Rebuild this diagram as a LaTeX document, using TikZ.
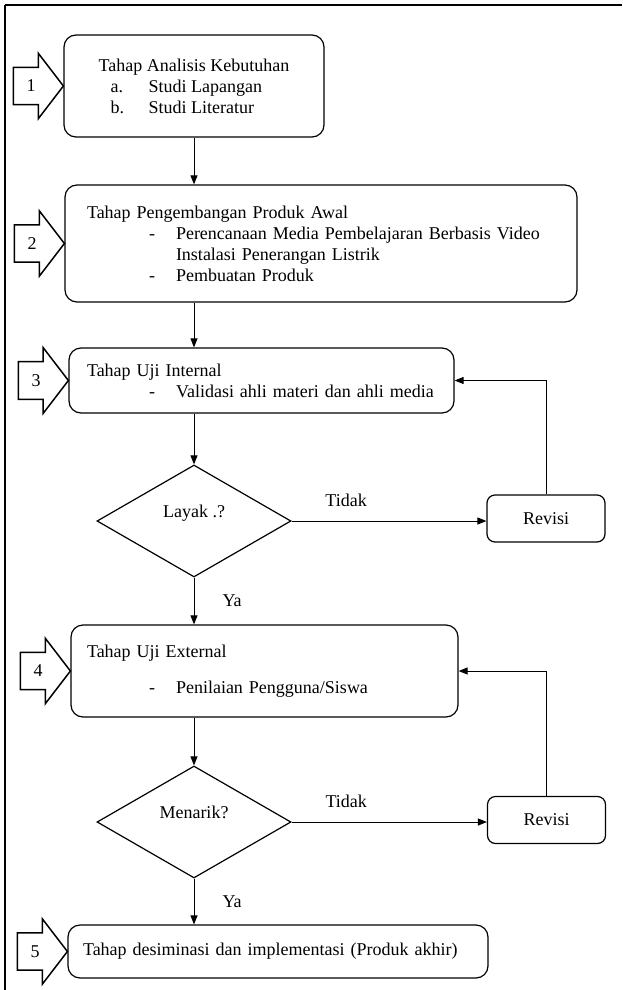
\documentclass[tikz,border=0pt]{standalone}
\usepackage{fontspec}
\setmainfont{Liberation Serif}
\usetikzlibrary{shapes.geometric,shapes.arrows,arrows.meta}

\tikzset{
  tahap/.style={draw, line width=1.2pt, rounded corners=12pt, align=left, inner xsep=18pt, inner ysep=0pt},
  keputusan/.style={diamond, draw, line width=1.2pt, inner sep=0pt, minimum width=194pt, minimum height=112pt, text depth=20pt},
  revisi/.style={draw, line width=1.2pt, rounded corners=8pt, minimum width=118pt, minimum height=47pt},
  nomor/.style={single arrow, draw, line width=1.5pt, inner xsep=2pt, inner ysep=12pt, outer sep=0pt, minimum height=50pt, single arrow head extend=14pt, single arrow tip angle=105, anchor=tip},
  ket/.style={inner sep=0pt},
  panah/.style={line width=1pt, -{Triangle[length=9pt,width=7pt]}}
}

\begin{document}
\begin{tikzpicture}[x=1pt, y=-1pt, every node/.style={font=\fontsize{18}{21}\selectfont}]
        \useasboundingbox (0,0) rectangle (622,990);
        % frame
        \draw[line width=1.2pt] (5,990) -- (5,5);
        \draw[line width=2pt] (5,5) -- (622,5);

        % stages
        \node[tahap, minimum width=260pt, minimum height=102pt] (b1) at (194,86)
            {Tahap Analisis Kebutuhan\\ \hspace*{12pt}\makebox[38pt][l]{a.}Studi Lapangan\\ \hspace*{12pt}\makebox[38pt][l]{b.}Studi Literatur};
        \node[tahap, inner xsep=22pt, text width=468pt, minimum height=117pt] (b2) at (321,243.5)
            {Tahap Pengembangan Produk Awal\\
             \hspace*{62pt}\makebox[27pt][l]{-}Perencanaan Media Pembelajaran Berbasis Video\\
             \hspace*{89pt}Instalasi Penerangan Listrik\\
             \hspace*{62pt}\makebox[27pt][l]{-}Pembuatan Produk};
        \node[tahap, text width=349pt, minimum height=65pt] (b3) at (261.5,380.5)
            {Tahap Uji Internal\\ \hspace*{62pt}\makebox[27pt][l]{-}Validasi ahli materi dan ahli media};
        \node[keputusan] (d1) at (194,521) {Layak .?};
        \node[revisi] (r1) at (546,518.5) {Revisi};
        \node[tahap, inner xsep=16pt, text width=355pt, minimum height=92pt] (b4) at (264.5,671)
            {Tahap Uji External\\[15pt] \hspace*{62pt}\makebox[27pt][l]{-}Penilaian Pengguna/Siswa};
        \node[keputusan] (d2) at (194,822) {Menarik?};
        \node[revisi] (r2) at (546.5,820) {Revisi};
        \node[tahap, inner xsep=15pt, text width=390pt, minimum height=53pt] (b5) at (278,951.5)
            {Tahap desiminasi dan implementasi (Produk akhir)};

        % step numbers
        \foreach \i in {1,...,5} {
            \node[nomor] (a\i) at (b\i.west) {\i};
        }

        % flow
        \draw[panah] (b1.south -| d1) -- (b2.north -| d1);
        \draw[panah] (b2.south -| d1) -- (b3.north -| d1);
        \draw[panah] (b3.south -| d1) -- (d1.north);
        \draw[panah] (d1.east) -- node[ket, above=14pt, pos=0.28] (tidak1) {Tidak} (d1.east -| r1.west);
        \draw[panah] (r1.north) |- (b3.east);
        \draw[panah] (d1.south) -- node[ket, right=28pt] (ya1) {Ya} (b4.north -| d1);
        \draw[panah] (b4.south -| d1) -- (d2.north);
        \draw[panah] (d2.east) -- node[ket, above=14pt, pos=0.28] (tidak2) {Tidak} (d2.east -| r2.west);
        \draw[panah] (r2.north) |- (b4.east);
        \draw[panah] (d2.south) -- node[ket, right=28pt] (ya2) {Ya} (b5.north -| d2);
    \end{tikzpicture}
\end{document}
